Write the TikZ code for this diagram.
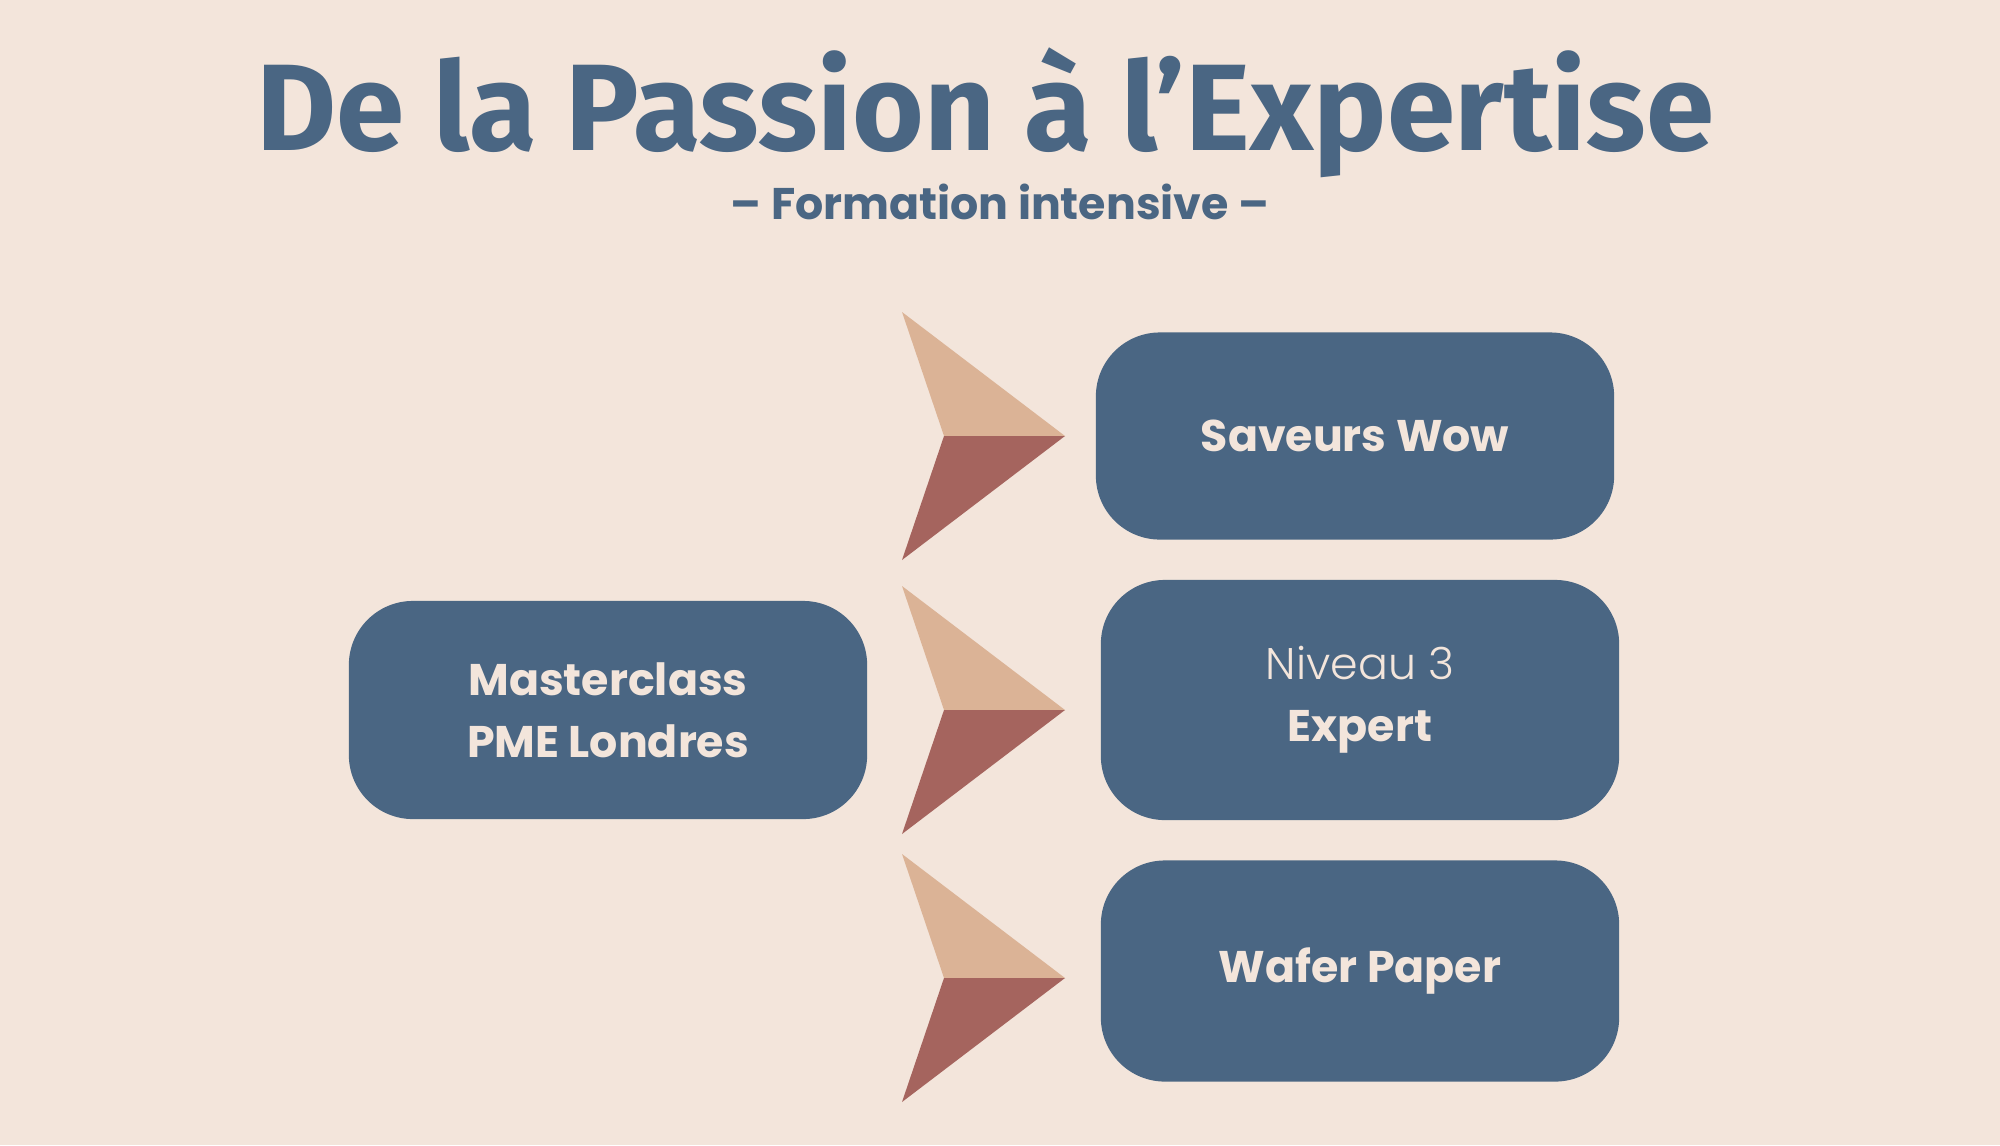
\documentclass[tikz,border=0pt]{standalone}
\usepackage{fontspec}
\setmainfont{Poppins}
\newfontfamily\titlefont{Fira Sans}
\newfontfamily\lightfont{Poppins Light}
\definecolor{bgcream}{HTML}{F3E5DB}
\definecolor{slate}{HTML}{4A6683}
\definecolor{chevlight}{HTML}{DBB396}
\definecolor{chevdark}{HTML}{A5645E}
\begin{document}
\begin{tikzpicture}[x=0.01cm, y=-0.01cm,
  box/.style={fill=slate, rounded corners=0.64cm, minimum width=5.18cm,
    align=center, text=bgcream, font=\bfseries\fontsize{12.6}{17.7}\selectfont}]
  \fill[bgcream] (0,0) rectangle (2000,1145);

  % heading
  \node[anchor=base, text=slate, font=\titlefont\bfseries\fontsize{35}{40}\selectfont]
    (title) at (985,150) {De la Passion à l’Expertise};
  \node[anchor=base, text=slate, font=\bfseries\fontsize{12.6}{15}\selectfont]
    (subtitle) at (1000,219) {– Formation intensive –};

  % boxes
  \node[box, minimum height=2.18cm] (master) at (608,710) {Masterclass\\PME Londres};
  \node[box, minimum height=2.07cm] (saveurs) at (1355,436) {Saveurs Wow};
  \node[box, minimum height=2.40cm] (expert) at (1360,700)
    {{\lightfont\mdseries Niveau 3}\\Expert};
  \node[box, minimum height=2.21cm] (wafer) at (1360,971) {Wafer Paper};

  % chevrons
  \foreach \y in {436,710,978} {
    \fill[chevlight] (902,\y-124) -- (1065,\y) -- (944,\y) -- cycle;
    \fill[chevdark] (902,\y+124) -- (1065,\y) -- (944,\y) -- cycle;
  }
\end{tikzpicture}
\end{document}
